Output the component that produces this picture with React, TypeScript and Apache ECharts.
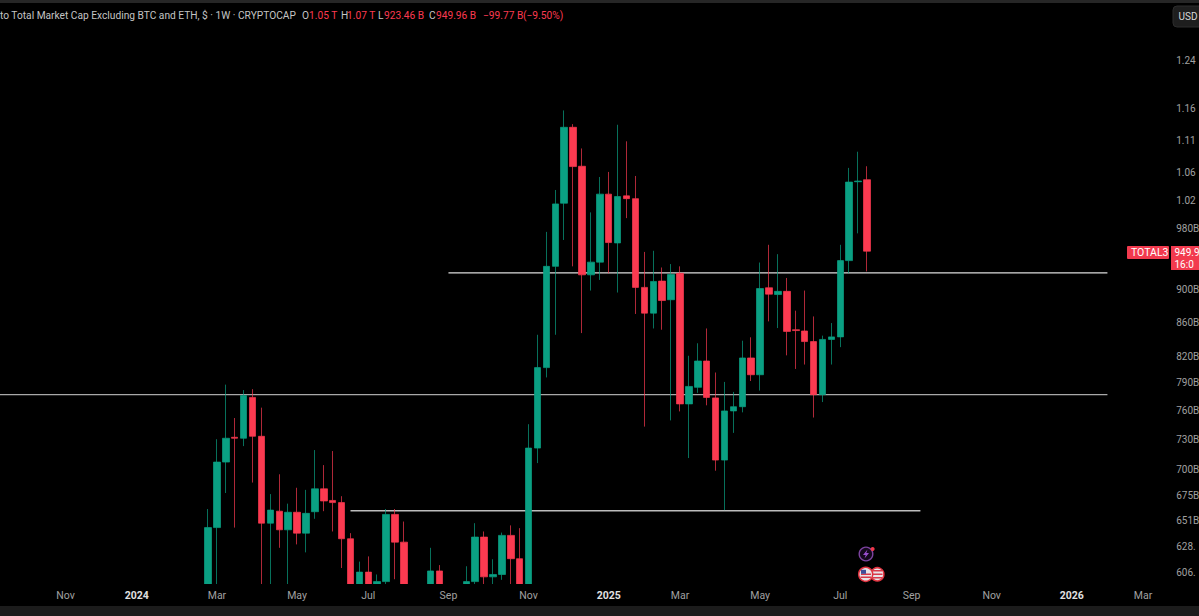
import React, { useEffect, useRef } from "react";
import * as echarts from "echarts";

// Weekly OHLC, in billions of USD. Index 0 is the week of 2024-02-19.
const openValues = [585,645,707,732,731,774,733,649,660,643,659,640,659.5,681,670,668,635,590,606,590,598,657,632,588,575,590,607,590,580,590,598,636.5,602,604,638,617.5,590,721,807,930,1016,1130,1070,919,935.5,1029,961,1026.5,1022.5,903,871,911,887.5,921,767,785,814.5,773.5,709,759.5,764,818,799,902.5,894,898,851,849.5,837,777,839.5,842.5,937.5,1047,1050];
const closeValues = [645,707,731,731,776,733,649,661,643,659,640,658,681,669.5,668,635,590,606,590,598,657,632,590,575,585,607,590,580,585,598,636.5,602,604,638,617.5,590,721,807,930,1015,1130,1069.5,919,935.5,1029,961.5,1025.5,1022.5,903,871,910.5,886.5,919.5,767,786,814.5,774,709,759.5,764,818,799,901.5,894.5,898,849,850,837,777,839.5,842.5,937.5,1046.5,1048,949.96];
const lowValues = [575,585,677,645,723,687,590,590,627,590,630,623,653,660,641.5,609.5,585,585,585,585,590,600,585,570,570,585,585,570,570,585,590,590,590,599.5,590,585,585,706,796,845,965,930,847,899,912.5,921,896.5,995,870,743,852.5,851,749.5,759,711,779,765.5,698.5,661,736.5,758,792,781.5,861,853,821,805.5,810.5,752.5,769,810.5,830.5,921,974,923.46];
const highValues = [662,730,788,752,782,783,763,676,695,667,682,680,719,704,718,674,640,615,619.5,604,662,662,650.5,592,590,627,612,594,592,611,649,641.5,617,640.5,647,644.5,745.5,845,976,1035,1157,1135,1097,1003,1054,1061.5,1134,1108,1055.5,949,950.5,928.5,933,930,820.5,835,852.5,801.5,791,780,838,842,935,958.5,946,915,874,899,867,844,859,958.5,1067.5,1092,1070];

const firstBand = -24;
const bandCount = 133;

const priceTicks = [1240,1160,1110,1060,1020,980,900,860,820,790,760,730,700,675,651,628,606];
const priceTickLabels = ["1.24","1.16","1.11","1.06","1.02","980B","900B","860B","820B","790B","760B","730B","700B","675B","651B","628.","606."];

const timeTickWeeks = [-16,-8,1,10,18,27,36,45,53,62,71,79,88,97,105];
const timeTickLabels = ["Nov","2024","Mar","May","Jul","Sep","Nov","2025","Mar","May","Jul","Sep","Nov","2026","Mar"];

// Horizontal levels: [first week, last week, value]
const levelUpper = [27, 101, 921.6];
const levelMiddle = [-24, 101, 777];
const levelLower = [16, 80, 660.4];

const headerText = "to Total Market Cap Excluding BTC and ETH, $ · 1W · CRYPTOCAP";
const symbolName = "TOTAL3";
const lastPrice = "949.9";
const countdown = "16:0";

const UP = "#0aa083";
const DOWN = "#fb3a50";
const FONT = "Roboto, 'Noto Sans', sans-serif";

function weekLabel(week: number): string {
  const d = new Date(Date.UTC(2024, 1, 19 + week * 7));
  return d.toISOString().slice(0, 10);
}

export default function App() {
  const ref = useRef<HTMLDivElement>(null);
  useEffect(() => {
    if (!ref.current) return;
    const chart = echarts.init(ref.current, undefined, { renderer: "svg" });
    const categories: string[] = [];
    for (let i = 0; i < bandCount; i++) categories.push(weekLabel(firstBand + i));
    const bandOf = (week: number) => week - firstBand;
    const catLabel: Record<string, string> = {};
    timeTickWeeks.forEach((w, i) => (catLabel[weekLabel(w)] = timeTickLabels[i]));

    const candleData = openValues.map((o, i) => [o, closeValues[i], lowValues[i], highValues[i]]);
    const candles: any[] = [];
    for (let i = 0; i < -firstBand; i++) candles.push("-");
    candleData.forEach((c) => candles.push(c));

    const levelSeries = (lv: number[], color: string) => ({
      type: "line",
      silent: true,
      z: 1,
      symbol: "none",
      animation: false,
      clip: false,
      lineStyle: { color, width: 1.4 },
      data: [
        [bandOf(lv[0]), lv[2]],
        [bandOf(lv[1]), lv[2]],
      ],
    });

    const txt = (x: number, y: number, text: string, fill: string, extra: any = {}) => ({
      type: "text",
      x,
      y,
      silent: true,
      z: 50,
      style: { text, fill, font: `10.2px ${FONT}`, textVerticalAlign: "middle", ...extra },
    });

    chart.setOption({
      animation: false,
      backgroundColor: "#000000",
      grid: { left: -10.15, top: 4, width: bandCount * 8.905, height: 580, containLabel: false, outerBoundsMode: "none" },
      xAxis: {
        type: "category",
        data: categories,
        boundaryGap: true,
        z: 60,
        axisLine: { show: false },
        axisTick: { show: false },
        splitLine: { show: false },
        axisLabel: {
          show: true,
          customValues: timeTickWeeks.map(bandOf),
          hideOverlap: false,
          margin: 6,
          fontFamily: FONT,
          fontSize: 10.5,
          color: "#a0a0a0",
          formatter: (value: string) => {
            const l = catLabel[value] ?? "";
            return /^\d+$/.test(l) ? `{y|${l}}` : l;
          },
          rich: { y: { fontFamily: FONT, fontSize: 10.5, fontWeight: 700, color: "#e0e0e0" } },
        },
      },
      yAxis: {
        type: "log",
        position: "right",
        min: 596,
        max: 1343,
        z: 60,
        axisLine: { show: false },
        axisTick: { show: false },
        splitLine: { show: false },
        axisLabel: {
          show: true,
          customValues: priceTicks,
          margin: 2,
          padding: [2, 0, 0, 0],
          align: "left",
          hideOverlap: false,
          showMinLabel: true,
          showMaxLabel: true,
          fontFamily: FONT,
          fontSize: 10,
          color: "#a0a0a0",
          formatter: (value: number) => {
            const i = priceTicks.findIndex((t) => Math.abs(t - value) < 0.5);
            return i >= 0 ? priceTickLabels[i] : "";
          },
        },
      },
      series: [
        levelSeries(levelUpper, "#dcdcdc"),
        levelSeries(levelMiddle, "#a8a8a8"),
        levelSeries(levelLower, "#bdbdbd"),
        {
          type: "candlestick",
          z: 5,
          silent: true,
          barWidth: 7,
          clip: true,
          itemStyle: { color: UP, color0: DOWN, borderColor: UP, borderColor0: DOWN, borderWidth: 0.7 },
          data: candles,
        },
      ],
      graphic: [
        { type: "rect", z: 30, silent: true, shape: { x: 0, y: 584, width: 1199, height: 22 }, style: { fill: "#000000" } },
        { type: "rect", z: 40, silent: true, shape: { x: 0, y: 0, width: 1199, height: 3 }, style: { fill: "#262626" } },
        { type: "rect", z: 40, silent: true, shape: { x: 0, y: 606, width: 1199, height: 10 }, style: { fill: "#1c1c1c" } },
        { type: "rect", z: 40, silent: true, shape: { x: 1173, y: 6, width: 40, height: 21, r: 4 }, style: { fill: "#1e1e1e", stroke: "#2c2c2c", lineWidth: 1 } },
        txt(1178.5, 16.5, "USD", "#d8d8d8", { font: `10px ${FONT}` }),
        txt(0, 15, headerText, "#c4c4c4"),
        txt(302, 15, "O", "#c4c4c4"),
        txt(309, 15, "1.05 T", DOWN),
        txt(341, 15, "H", "#c4c4c4"),
        txt(347, 15, "1.07 T", DOWN),
        txt(378, 15, "L", "#c4c4c4"),
        txt(384, 15, "923.46 B", DOWN),
        txt(429, 15, "C", "#c4c4c4"),
        txt(436, 15, "949.96 B", DOWN),
        txt(483, 15, "−99.77 B", DOWN),
        txt(523, 15, "(−9.50%)", DOWN),
        { type: "rect", z: 40, silent: true, shape: { x: 1127, y: 246, width: 42, height: 13, r: 1 }, style: { fill: "#f23a4e" } },
        txt(1131, 252.5, symbolName, "#ffffff", { font: `10.5px ${FONT}` }),
        { type: "rect", z: 40, silent: true, shape: { x: 1171, y: 246, width: 30, height: 24 }, style: { fill: "#f23a4e" } },
        txt(1174.5, 252.5, lastPrice, "#ffffff", { font: `10px ${FONT}` }),
        txt(1174.5, 264, countdown, "#ffffff", { font: `10px ${FONT}` }),
        { type: "circle", z: 40, silent: true, shape: { cx: 866, cy: 554, r: 6.8 }, style: { fill: "#14081c", stroke: "#7d43a0", lineWidth: 1.4 } },
        { type: "circle", z: 41, silent: true, shape: { cx: 872.6, cy: 549, r: 2 }, style: { fill: "#f0384a" } },
        { type: "polygon", z: 41, silent: true, shape: { points: [[867.5, 549.5], [863, 555], [865.7, 555], [864.5, 558.5], [869, 553], [866.3, 553]] }, style: { fill: "#9a4fd0" } },
        { type: "circle", z: 41, silent: true, shape: { cx: 877.3, cy: 574.3, r: 6.6 }, style: { fill: "#e8e4e8", stroke: "#e0333f", lineWidth: 1.5 } },
        { type: "rect", z: 42, silent: true, shape: { x: 872.5, y: 570, width: 9.5, height: 1.5 }, style: { fill: "#d83a4a" } },
        { type: "rect", z: 42, silent: true, shape: { x: 872, y: 573.5, width: 10.5, height: 1.5 }, style: { fill: "#d83a4a" } },
        { type: "rect", z: 42, silent: true, shape: { x: 872.5, y: 577, width: 9.5, height: 1.5 }, style: { fill: "#d83a4a" } },
        { type: "circle", z: 43, silent: true, shape: { cx: 865.7, cy: 574.3, r: 7 }, style: { fill: "#e8e4e8", stroke: "#e0333f", lineWidth: 1.5 } },
        { type: "rect", z: 44, silent: true, shape: { x: 861, y: 573.5, width: 10, height: 1.5 }, style: { fill: "#d83a4a" } },
        { type: "rect", z: 44, silent: true, shape: { x: 860.5, y: 576.5, width: 10.5, height: 1.5 }, style: { fill: "#d83a4a" } },
        { type: "rect", z: 44, silent: true, shape: { x: 861, y: 569.8, width: 5, height: 4 }, style: { fill: "#3f4f9a" } },
      ],
    });
    return () => chart.dispose();
  }, []);
  return (
    <div
      ref={ref}
      style={{ position: "fixed", left: 0, top: 0, width: 1199, height: 616, background: "#000", overflow: "hidden" }}
    />
  );
}
